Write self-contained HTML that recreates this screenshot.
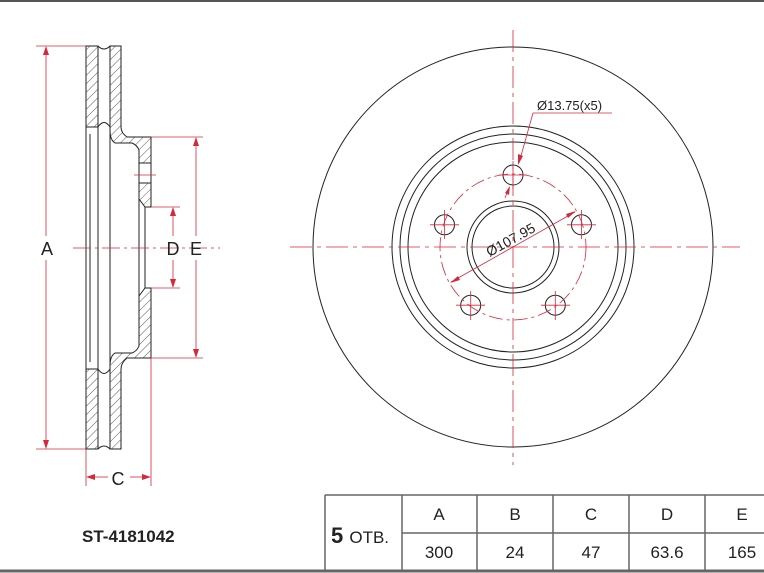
<!DOCTYPE html>
<html><head><style>
html,body{margin:0;padding:0;background:#fff;}
svg{display:block;}
text{font-family:"Liberation Sans",Arial,sans-serif;}
</style></head><body>
<svg width="764" height="573" viewBox="0 0 764 573" xmlns="http://www.w3.org/2000/svg">
<defs>
<pattern id="h" patternUnits="userSpaceOnUse" width="6" height="6" patternTransform="rotate(45)">
<line x1="0" y1="0" x2="0" y2="6" stroke="#333" stroke-width="0.8"/>
</pattern>
</defs>
<rect x="0" y="0" width="764" height="2" fill="#555"/>

<!-- Left cross section -->
<g stroke="#222" stroke-width="1" fill="url(#h)">
<!-- top plates -->
<path d="M86,46 H98 V127 H86 Z"/>
<path d="M110,46 H121 V127 Q121,133 127,137 H151 V163 H139 V150 Q137,145 132,143 H115 Q110,140 110,130 Z"/>
<path d="M139,183 H151 V207 H145 L139,199 Z"/>
<!-- bottom mirrored -->
<path d="M86,449 H98 V369 H86 Z"/>
<path d="M110,449 H121 V369 Q121,363 127,358 H151 V288 H145 L139,296 V346 Q137,351 132,353 H115 Q110,356 110,366 Z"/>
</g>
<g stroke="#222" stroke-width="1" fill="none">
<path d="M98,46 Q104,52 110,46"/>
<path d="M98,449 Q104,443 110,449"/>
<path d="M98,127 Q104,118 110,127"/>
<path d="M98,369 Q104,378 110,369"/>
<line x1="86" y1="127" x2="86" y2="369"/>
<line x1="90" y1="134" x2="90" y2="362"/>
<line x1="98" y1="127" x2="98" y2="369"/>
<line x1="110" y1="130" x2="110" y2="366"/>
<line x1="145" y1="207" x2="145" y2="288"/>
<line x1="151" y1="163" x2="151" y2="183"/>
<line x1="139" y1="163" x2="139" y2="183"/>
<line x1="139" y1="199" x2="139" y2="296"/>
</g>
<!-- red dims left -->
<g stroke="#d6283a" stroke-width="0.8" fill="none">
<line x1="36" y1="46" x2="86" y2="46"/>
<line x1="36" y1="449" x2="86" y2="449"/>
<line x1="46" y1="52" x2="46" y2="236"/>
<line x1="46" y1="260" x2="46" y2="443"/>
<line x1="151" y1="137" x2="203" y2="137"/>
<line x1="151" y1="358" x2="203" y2="358"/>
<line x1="196" y1="143" x2="196" y2="236"/>
<line x1="196" y1="260" x2="196" y2="352"/>
<line x1="151" y1="207" x2="180" y2="207"/>
<line x1="151" y1="288" x2="180" y2="288"/>
<line x1="173" y1="213" x2="173" y2="236"/>
<line x1="173" y1="260" x2="173" y2="282"/>
<line x1="86" y1="449" x2="86" y2="486"/>
<line x1="151" y1="358" x2="151" y2="486"/>
<line x1="92" y1="477" x2="108" y2="477"/>
<line x1="130" y1="477" x2="145" y2="477"/>
<line x1="134" y1="175" x2="156" y2="175"/>
<line x1="73" y1="248" x2="220" y2="248" stroke-dasharray="18,4,3,4"/>
</g>
<g fill="#d6283a">
<path d="M46,46 l-3,9 h6z"/><path d="M46,449 l-3,-9 h6z"/>
<path d="M196,137 l-3,9 h6z"/><path d="M196,358 l-3,-9 h6z"/>
<path d="M173,207 l-3,9 h6z"/><path d="M173,288 l-3,-9 h6z"/>
<path d="M86,477 l9,-3 v6z"/><path d="M151,477 l-9,-3 v6z"/>
</g>
<g font-size="18" fill="#222" text-anchor="middle">
<text x="47" y="255">A</text>
<text x="173" y="255">D</text>
<text x="196" y="255">E</text>
<text x="118" y="485">C</text>
</g>

<!-- Right face view -->
<g stroke="#222" stroke-width="1" fill="none">
<circle cx="513" cy="247" r="200"/>
<circle cx="513" cy="247" r="121"/>
<circle cx="513" cy="247" r="113"/>
<circle cx="513" cy="247" r="105"/>
<circle cx="513" cy="247" r="46"/>
<circle cx="513" cy="247" r="41"/>
<circle cx="513" cy="175" r="10"/>
<circle cx="444.5" cy="224.8" r="10"/>
<circle cx="581.5" cy="224.8" r="10"/>
<circle cx="470.7" cy="305.2" r="10"/>
<circle cx="555.3" cy="305.2" r="10"/>
</g>
<g stroke="#d6283a" stroke-width="0.8" fill="none">
<line x1="290" y1="247" x2="740" y2="247" stroke-dasharray="22,5,4,5"/>
<line x1="513" y1="30" x2="513" y2="465" stroke-dasharray="22,5,4,5"/>
<circle cx="513" cy="247" r="73" stroke-dasharray="14,4,3,4"/>
<line x1="499" y1="175" x2="527" y2="175"/><line x1="513" y1="161" x2="513" y2="189"/>
<line x1="430" y1="224.8" x2="459" y2="224.8"/><line x1="444.5" y1="210" x2="444.5" y2="239"/>
<line x1="567" y1="224.8" x2="596" y2="224.8"/><line x1="581.5" y1="210" x2="581.5" y2="239"/>
<line x1="456" y1="305.2" x2="485" y2="305.2"/><line x1="470.7" y1="291" x2="470.7" y2="320"/>
<line x1="541" y1="305.2" x2="570" y2="305.2"/><line x1="555.3" y1="291" x2="555.3" y2="320"/>
<line x1="533" y1="113" x2="612" y2="113"/>
<line x1="533" y1="113" x2="519" y2="163"/>
<line x1="451" y1="282" x2="575" y2="212"/>
<line x1="505" y1="198" x2="509" y2="188"/>
</g>
<g fill="#d6283a">
<path d="M518,165 l0,-11 l5,2z"/>
<path d="M450,283 l8,-7 l2,4z"/>
<path d="M576,211 l-8,7 l-2,-4z"/>
<path d="M510,186 l-1,9 l-4,-2z"/>
</g>
<text x="537" y="110" font-size="13" fill="#222">Ø13.75(x5)</text>
<text x="513" y="244" font-size="14" fill="#222" text-anchor="middle" transform="rotate(-29 513 244)">Ø107.95</text>

<!-- Table -->
<g stroke="#666" stroke-width="1.5" fill="none">
<line x1="0" y1="571" x2="764" y2="571" stroke-width="3"/>
<line x1="325" y1="495" x2="764" y2="495"/>
<line x1="325" y1="495" x2="325" y2="571"/>
<line x1="402" y1="495" x2="402" y2="571"/>
<line x1="477" y1="495" x2="477" y2="571"/>
<line x1="553" y1="495" x2="553" y2="571"/>
<line x1="629" y1="495" x2="629" y2="571"/>
<line x1="705" y1="495" x2="705" y2="571"/>
<line x1="402" y1="533" x2="764" y2="533"/>
</g>
<g font-size="17" fill="#222" text-anchor="middle">
<text x="439" y="520">A</text><text x="515" y="520">B</text><text x="591" y="520">C</text><text x="667" y="520">D</text><text x="742" y="520">E</text>
<text x="439" y="558">300</text><text x="515" y="558">24</text><text x="591" y="558">47</text><text x="667" y="558">63.6</text><text x="742" y="558">165</text>
</g>
<text x="331" y="543" font-size="22" font-weight="bold" fill="#222">5 <tspan font-size="17" font-weight="normal">ОТВ.</tspan></text>
<text x="82" y="542" font-size="17" font-weight="bold" fill="#222">ST-4181042</text>
</svg>
</body></html>
